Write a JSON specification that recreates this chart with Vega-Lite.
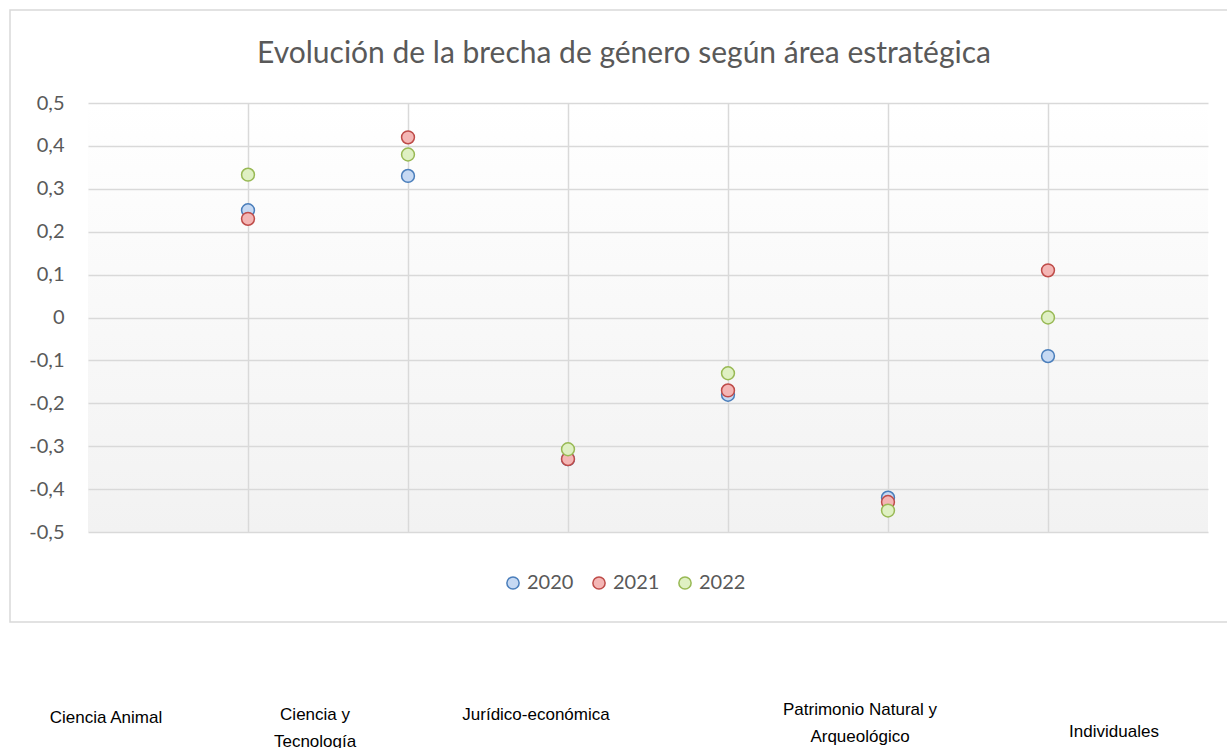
{
  "$schema": "https://vega.github.io/schema/vega-lite/v6.json",
  "width": 1120,
  "height": 429,
  "autosize": "none",
  "padding": {"left": 88, "top": 103, "right": 19, "bottom": 216},
  "background": "#ffffff",
  "title": {
    "text": "Evolución de la brecha de género según área estratégica",
    "font": "Lato",
    "fontSize": 30,
    "fontWeight": "normal",
    "color": "#595959",
    "anchor": "middle",
    "offset": -60,
    "dx": -24
  },
  "view": {
    "stroke": null,
    "fill": {
      "gradient": "linear",
      "x1": 0, "y1": 0, "x2": 0, "y2": 1,
      "stops": [
        {"offset": 0, "color": "#ffffff"},
        {"offset": 1, "color": "#f2f2f2"}
      ]
    }
  },
  "datasets": {
    "points": [
      {"x": 1, "area": "Ciencia Animal", "year": "2020", "value": 0.25},
      {"x": 2, "area": "Ciencia y Tecnología", "year": "2020", "value": 0.33},
      {"x": 3, "area": "Jurídico-económica", "year": "2020", "value": -0.33},
      {"x": 4, "area": "Sin etiqueta", "year": "2020", "value": -0.18},
      {"x": 5, "area": "Patrimonio Natural y Arqueológico", "year": "2020", "value": -0.42},
      {"x": 6, "area": "Individuales", "year": "2020", "value": -0.09},
      {"x": 1, "area": "Ciencia Animal", "year": "2021", "value": 0.23},
      {"x": 2, "area": "Ciencia y Tecnología", "year": "2021", "value": 0.42},
      {"x": 3, "area": "Jurídico-económica", "year": "2021", "value": -0.33},
      {"x": 4, "area": "Sin etiqueta", "year": "2021", "value": -0.17},
      {"x": 5, "area": "Patrimonio Natural y Arqueológico", "year": "2021", "value": -0.43},
      {"x": 6, "area": "Individuales", "year": "2021", "value": 0.11},
      {"x": 1, "area": "Ciencia Animal", "year": "2022", "value": 0.333},
      {"x": 2, "area": "Ciencia y Tecnología", "year": "2022", "value": 0.38},
      {"x": 3, "area": "Jurídico-económica", "year": "2022", "value": -0.307},
      {"x": 4, "area": "Sin etiqueta", "year": "2022", "value": -0.13},
      {"x": 5, "area": "Patrimonio Natural y Arqueológico", "year": "2022", "value": -0.45},
      {"x": 6, "area": "Individuales", "year": "2022", "value": 0.0}
    ],
    "labels": [
      {"label": "Ciencia Animal", "lx": 0.1125, "ly": -0.9149},
      {"label": "Ciencia y\nTecnología", "lx": 1.419, "ly": -0.9079},
      {"label": "Jurídico-económica", "lx": 2.8, "ly": -0.9079},
      {"label": "Patrimonio Natural y\nArqueológico", "lx": 4.825, "ly": -0.8963},
      {"label": "Individuales", "lx": 6.4125, "ly": -0.9476}
    ]
  },
  "layer": [
    {
      "data": {"name": "points"},
      "mark": {"type": "point", "filled": true, "size": 165, "strokeWidth": 1.5, "opacity": 1, "shape": "circle"},
      "encoding": {
        "x": {
          "field": "x",
          "type": "quantitative",
          "title": null,
          "scale": {"domain": [0, 7], "nice": false, "zero": false},
          "axis": {"values": [1, 2, 3, 4, 5, 6], "labels": false, "ticks": false, "domain": false, "title": null, "grid": true, "gridColor": "#d9d9d9", "gridWidth": 1.5}
        },
        "y": {
          "field": "value",
          "type": "quantitative",
          "title": null,
          "scale": {"domain": [-0.5, 0.5], "nice": false, "zero": false},
          "axis": {"tickCount": 10, "labelExpr": "replace(replace(format(datum.value, '.1~f'), '.', ','), '−', '-')", "title": null, "domain": false, "ticks": false, "labelPadding": 24, "labelFont": "Lato", "labelFontSize": 20, "labelColor": "#595959", "grid": true, "gridColor": "#d9d9d9", "gridWidth": 1.5}
        },
        "fill": {
          "field": "year",
          "type": "nominal",
          "scale": {"domain": ["2020", "2021", "2022"], "range": ["#c6d9f3", "#f4b6b5", "#dff0c3"]},
          "legend": {"title": null, "orient": "none", "legendX": 415, "legendY": 470, "direction": "horizontal", "labelFont": "Lato", "labelFontSize": 20, "labelColor": "#595959", "symbolSize": 150, "symbolStrokeWidth": 1.5, "symbolType": "circle", "columnPadding": 15, "labelOffset": 4}
        },
        "stroke": {
          "field": "year",
          "type": "nominal",
          "scale": {"domain": ["2020", "2021", "2022"], "range": ["#4a7ebb", "#be4b48", "#98b954"]},
          "legend": {"title": null, "orient": "none", "legendX": 415, "legendY": 470, "direction": "horizontal", "labelFont": "Lato", "labelFontSize": 20, "labelColor": "#595959", "symbolSize": 150, "symbolStrokeWidth": 1.5, "symbolType": "circle", "columnPadding": 15, "labelOffset": 4}
        }
      }
    },
    {
      "data": {"values": [{}]},
      "mark": {"type": "rect", "filled": false, "stroke": "#d9d9d9", "strokeWidth": 1.5},
      "encoding": {
        "x": {
          "datum": -0.4875,
          "type": "quantitative",
          "title": null,
          "scale": {"domain": [0, 7], "nice": false, "zero": false},
          "axis": {"values": [1, 2, 3, 4, 5, 6], "labels": false, "ticks": false, "domain": false, "title": null, "grid": true, "gridColor": "#d9d9d9", "gridWidth": 1.5}
        },
        "x2": {"datum": 7.3},
        "y": {
          "datum": 0.7168,
          "type": "quantitative",
          "title": null,
          "scale": {"domain": [-0.5, 0.5], "nice": false, "zero": false},
          "axis": {"tickCount": 10, "labelExpr": "replace(replace(format(datum.value, '.1~f'), '.', ','), '−', '-')", "title": null, "domain": false, "ticks": false, "labelPadding": 24, "labelFont": "Lato", "labelFontSize": 20, "labelColor": "#595959", "grid": true, "gridColor": "#d9d9d9", "gridWidth": 1.5}
        },
        "y2": {"datum": -0.7098}
      }
    },
    {
      "data": {"name": "labels"},
      "mark": {"type": "text", "font": "Liberation Sans", "fontSize": 17, "color": "#000000", "align": "center", "baseline": "top", "lineBreak": "\n", "lineHeight": 27},
      "encoding": {
        "x": {
          "field": "lx",
          "type": "quantitative",
          "title": null,
          "scale": {"domain": [0, 7], "nice": false, "zero": false},
          "axis": {"values": [1, 2, 3, 4, 5, 6], "labels": false, "ticks": false, "domain": false, "title": null, "grid": true, "gridColor": "#d9d9d9", "gridWidth": 1.5}
        },
        "y": {
          "field": "ly",
          "type": "quantitative",
          "title": null,
          "scale": {"domain": [-0.5, 0.5], "nice": false, "zero": false},
          "axis": {"tickCount": 10, "labelExpr": "replace(replace(format(datum.value, '.1~f'), '.', ','), '−', '-')", "title": null, "domain": false, "ticks": false, "labelPadding": 24, "labelFont": "Lato", "labelFontSize": 20, "labelColor": "#595959", "grid": true, "gridColor": "#d9d9d9", "gridWidth": 1.5}
        },
        "text": {"field": "label"}
      }
    }
  ]
}
